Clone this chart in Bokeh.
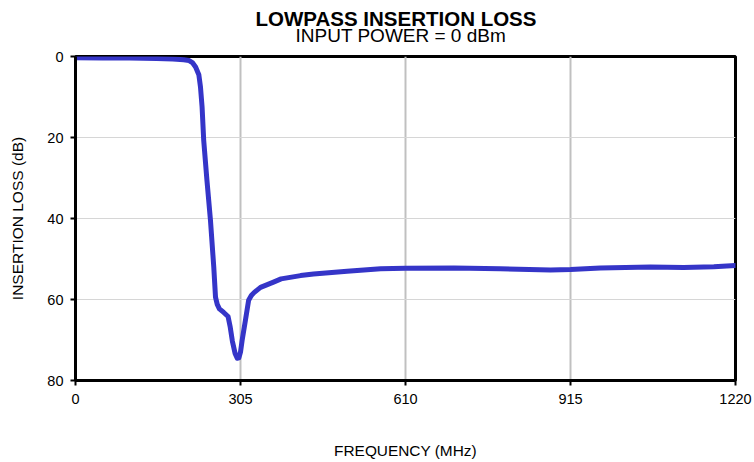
from bokeh.plotting import figure
from bokeh.models import Range1d, FixedTicker, Title
from bokeh.embed import file_html
from bokeh.resources import INLINE

freq_mhz = [0, 50, 100, 150, 180, 200, 210, 216, 222, 228, 231, 234, 237, 243, 249.5,
            255.6, 258.8, 262, 266, 274, 282, 286, 290, 295, 299, 302, 305, 308, 314,
            320, 325, 330, 342, 366, 380, 416, 440, 502, 564, 610, 700, 785, 878, 915,
            970, 1063, 1124, 1180, 1220]
loss_db = [0.3, 0.35, 0.4, 0.5, 0.6, 0.8, 1.0, 1.5, 2.6, 4.5, 7.5, 12.5, 20.7, 30.6, 40.5,
           52.0, 59.4, 61.2, 62.3, 63.2, 64.2, 66.8, 70.3, 73.3, 74.5, 74.4, 73.0, 70.1, 65.2,
           60.2, 59.0, 58.3, 57.0, 55.7, 54.9, 54.1, 53.7, 53.0, 52.4, 52.3, 52.2, 52.4, 52.7, 52.6,
           52.2, 52.0, 52.1, 51.9, 51.6]

x_ticks = [0, 305, 610, 915, 1220]
y_ticks = [0, 20, 40, 60, 80]

FONT = "Liberation Sans"

p = figure(width=754, height=462, output_backend="svg", toolbar_location=None,
           x_range=Range1d(0, 1220), y_range=Range1d(80, 0),
           min_border_left=75, min_border_right=19, min_border_top=56, min_border_bottom=82,
           title=None)

# spacer panel between frame and subtitle
p.add_layout(Title(text=" ", text_font=FONT, text_font_size="1px", standoff=8), "above")
p.add_layout(Title(text="INPUT POWER = 0 dBm", align="left", text_font=FONT,
                   text_font_size="19px", text_font_style="normal", text_color="black",
                   standoff=0, offset=220), "above")
p.add_layout(Title(text="LOWPASS INSERTION LOSS", align="left", text_font=FONT,
                   text_font_size="20.5px", text_font_style="bold", text_color="black",
                   standoff=-15.4, offset=180), "above")

p.line(freq_mhz, loss_db, line_color="#3535C8", line_width=5, line_join="round", line_cap="round")

p.outline_line_color = "black"
p.outline_line_width = 3
p.background_fill_color = "white"
p.border_fill_color = "white"

p.xaxis.ticker = FixedTicker(ticks=x_ticks)
p.yaxis.ticker = FixedTicker(ticks=y_ticks)
p.xgrid.ticker = FixedTicker(ticks=[305, 610, 915])
p.ygrid.ticker = FixedTicker(ticks=[20, 40, 60])
p.xgrid.grid_line_color = "#c0c0c0"
p.xgrid.grid_line_width = 2
p.ygrid.grid_line_color = "#d6d6d6"
p.ygrid.grid_line_width = 1

for ax in (p.xaxis, p.yaxis):
    ax.axis_line_color = "black"
    ax.axis_line_width = 3
    ax.major_tick_line_color = "black"
    ax.major_tick_line_width = 2
    ax.major_tick_out = 5
    ax.major_tick_in = 0
    ax.minor_tick_line_color = None
    ax.major_label_text_font = FONT
    ax.major_label_text_font_size = "14.5px"
    ax.major_label_text_color = "black"
    ax.axis_label_text_font = FONT
    ax.axis_label_text_font_size = "15.5px"
    ax.axis_label_text_font_style = "normal"
    ax.axis_label_text_color = "black"

p.xaxis.axis_label = "FREQUENCY (MHz)"
p.yaxis.axis_label = "INSERTION LOSS (dB)"
p.xaxis.axis_label_text_font_size = "15.4px"
p.xaxis.major_label_standoff = 8
p.yaxis.major_label_standoff = 7
p.xaxis.axis_label_standoff = 35
p.yaxis.axis_label_standoff = 18

open("out.html", "w").write(file_html(p, INLINE))
